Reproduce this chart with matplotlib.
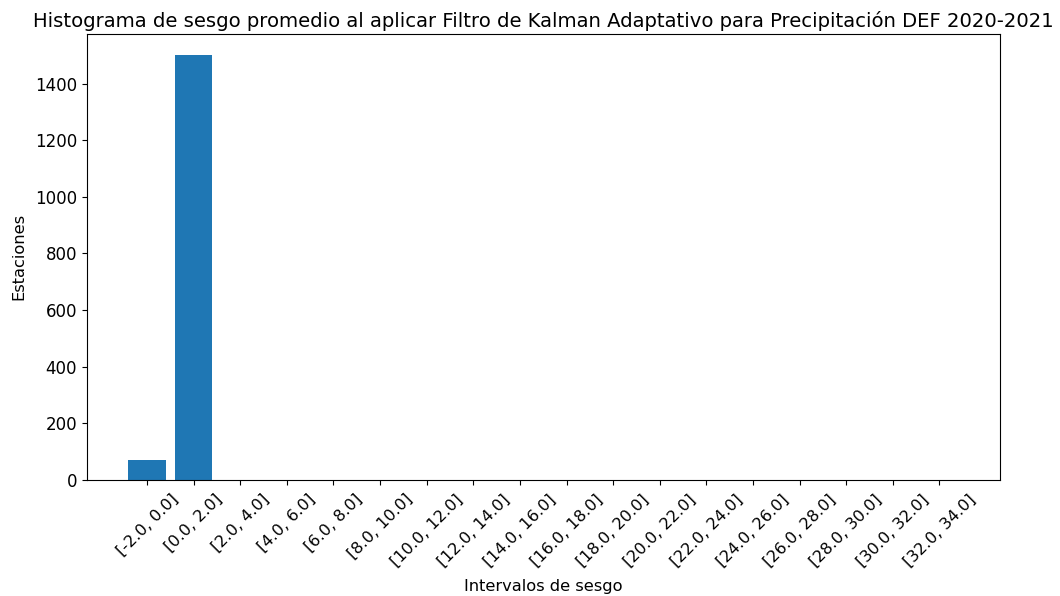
import numpy as np
import matplotlib
matplotlib.use("Agg")
import matplotlib.pyplot as plt

# Intervalos de sesgo y numero de estaciones en cada uno
intervalos = ["[-2.0, 0.0]", "[0.0, 2.0]", "[2.0, 4.0]", "[4.0, 6.0]", "[6.0, 8.0]",
              "[8.0, 10.0]", "[10.0, 12.0]", "[12.0, 14.0]", "[14.0, 16.0]",
              "[16.0, 18.0]", "[18.0, 20.0]", "[20.0, 22.0]", "[22.0, 24.0]",
              "[24.0, 26.0]", "[26.0, 28.0]", "[28.0, 30.0]", "[30.0, 32.0]",
              "[32.0, 34.0]"]
estaciones = [71, 1500, 0, 0, 0, 0, 0, 0, 0, 0, 0, 0, 0, 0, 0, 0, 0, 0]

fig, ax = plt.subplots(figsize=(10.6, 5.96), dpi=100)
fig.subplots_adjust(left=0.082, right=0.943, top=0.943, bottom=0.195)

x = np.arange(len(intervalos))
ax.bar(x, estaciones, width=0.8, color="#1f77b4")
ax.set_xticks(x)
ax.set_xticklabels(intervalos, rotation=45, fontsize=11.6)
ax.tick_params(axis="y", labelsize=12)
ax.tick_params(axis="x", pad=5)
ax.set_xlabel("Intervalos de sesgo", fontsize=11.7, labelpad=7)
ax.set_ylabel("Estaciones", fontsize=11.7, labelpad=6)
ax.set_title("Histograma de sesgo promedio al aplicar Filtro de Kalman Adaptativo para Precipitación DEF 2020-2021",
             fontsize=14.1, pad=5)

fig.savefig("out.png", dpi=100)
